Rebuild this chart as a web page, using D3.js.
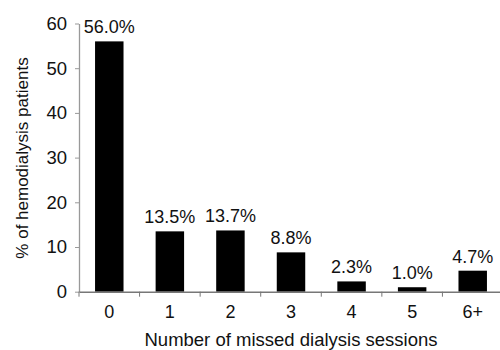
<!DOCTYPE html>
<html><head><meta charset="utf-8">
<script src="https://cdn.jsdelivr.net/npm/d3@7"></script>
<style>body{margin:0;background:#fff}text{font-family:"Liberation Sans",Arial,sans-serif;fill:#111}</style>
</head><body><svg id="c" width="500" height="350"></svg>
<script>
const categories = ["0","1","2","3","4","5","6+"];
const values = [56.0, 13.5, 13.7, 8.8, 2.3, 1.0, 4.7];
const valueLabels = ["56.0%","13.5%","13.7%","8.8%","2.3%","1.0%","4.7%"];
const yTicks = [0,10,20,30,40,50,60];

const svg = d3.select("#c");
const x = d3.scaleBand().domain(categories).range([79,503]).padding(0);
const y = d3.scaleLinear().domain([0,60]).range([291.7,23.5]);
const barFrac = 0.47;

// y axis
const ya = svg.append("g").attr("transform","translate(79,0)")
  .call(d3.axisLeft(y).tickValues(yTicks).tickSize(4).tickPadding(8).tickSizeOuter(0));
ya.select(".domain").attr("stroke","#999").attr("stroke-width",1.3);
ya.selectAll(".tick line").attr("stroke","#999");
ya.selectAll(".tick text").style("font-size","18.5px").attr("fill","#111");

// bars
svg.selectAll("rect.bar").data(values).enter().append("rect")
  .attr("x",(d,i)=>x(categories[i])+x.bandwidth()*(1-barFrac)/2)
  .attr("width",x.bandwidth()*barFrac)
  .attr("y",d=>y(d)).attr("height",d=>y(0)-y(d)).attr("fill","#000");

// x axis
const xa = svg.append("g").attr("transform","translate(0,"+y(0)+")")
  .call(d3.axisBottom(x).tickSize(0).tickPadding(14));
xa.select(".domain").attr("stroke","#777").attr("stroke-width",1.5);
xa.selectAll(".tick text").style("font-size","18px").attr("fill","#111");
// boundary ticks
const bounds = categories.map(c=>x(c)).concat([x.range()[1]]);
xa.selectAll("line.b").data(bounds).enter().append("line")
  .attr("x1",d=>d).attr("x2",d=>d).attr("y1",0).attr("y2",5).attr("stroke","#777");

// value labels
svg.selectAll("text.v").data(values).enter().append("text")
  .attr("x",(d,i)=>x(categories[i])+x.bandwidth()/2)
  .attr("y",d=>y(d)-8).attr("text-anchor","middle").style("font-size","18px")
  .text((d,i)=>valueLabels[i]);

// axis titles
svg.append("text").attr("x",291).attr("y",346).attr("text-anchor","middle")
  .style("font-size","18.5px").text("Number of missed dialysis sessions");
svg.append("text").attr("transform","translate(28,158) rotate(-90)").attr("text-anchor","middle")
  .style("font-size","17px").text("% of hemodialysis patients");
</script></body></html>
